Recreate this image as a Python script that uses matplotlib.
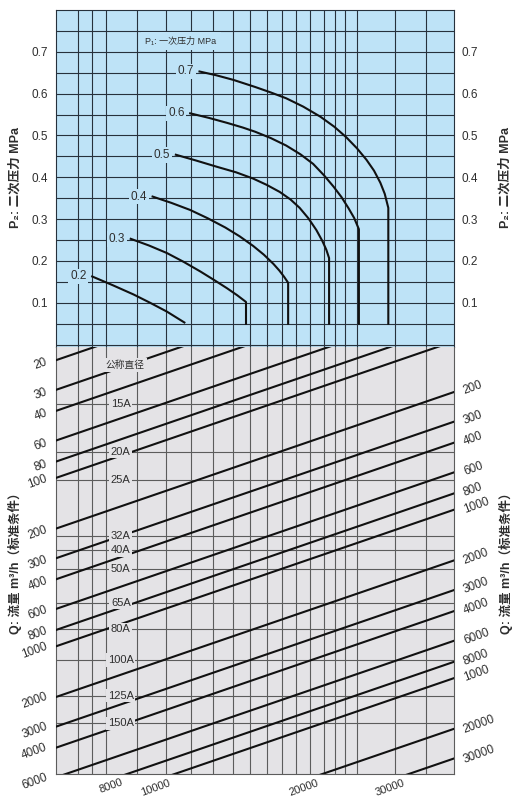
import numpy as np
import matplotlib.pyplot as plt

plt.rcParams['font.family'] = ['Liberation Sans', 'Noto Sans CJK SC', 'DejaVu Sans']

# P2 axis ticks (MPa)
p2_ticks = [0.1, 0.2, 0.3, 0.4, 0.5, 0.6, 0.7]

# vertical grid lines, position across the chart (0..100)
grid_x = [5.5, 9.1, 12.6, 20.4, 27.7, 34.0, 39.5, 44.6, 48.9, 53.1,
          56.9, 60.4, 64.0, 67.5, 70.3, 72.8, 75.6, 85.4, 93.2]

# P1 curves (primary pressure): x position and P2
p1_labels = ['0.2', '0.3', '0.4', '0.5', '0.6', '0.7']
p1_x = [
    [9.1, 14.3, 19.5, 23.7, 27.9, 32.3],
    [18.8, 23.4, 27.9, 32.1, 36.3, 39.7, 43.0, 45.6, 47.8, 47.8],
    [24.3, 29.0, 33.75, 38.2, 42.6, 46.2, 49.6, 52.3, 54.7, 56.2, 57.4,
     58.4, 58.4],
    [30.15, 35.3, 40.55, 45.3, 49.6, 53.0, 56.3, 59.0, 61.3, 63.5, 65.5,
     67.0, 68.0, 68.7, 68.7],
    [33.75, 38.5, 43.1, 47.0, 50.1, 54.0, 57.9, 61.5, 64.7, 67.4, 69.8,
     71.8, 73.6, 75.0, 76.2, 76.2],
    [36.1, 40.3, 44.6, 50.1, 54.0, 57.9, 62.2, 66.5, 70.0, 73.0, 75.7,
     78.1, 80.0, 81.6, 82.7, 83.6, 83.6],
]
p1_p2 = [
    [0.163, 0.142, 0.120, 0.100, 0.079, 0.053],
    [0.253, 0.237, 0.219, 0.198, 0.175, 0.155, 0.135, 0.118, 0.102, 0.05],
    [0.354, 0.339, 0.322, 0.302, 0.280, 0.259, 0.236, 0.215, 0.193, 0.177,
     0.162, 0.148, 0.05],
    [0.454, 0.440, 0.425, 0.412, 0.397, 0.382, 0.365, 0.347, 0.327, 0.302,
     0.274, 0.248, 0.227, 0.207, 0.05],
    [0.553, 0.542, 0.530, 0.519, 0.509, 0.494, 0.476, 0.455, 0.432, 0.405,
     0.378, 0.353, 0.326, 0.303, 0.276, 0.05],
    [0.653, 0.644, 0.633, 0.616, 0.603, 0.589, 0.569, 0.545, 0.521, 0.496,
     0.4695, 0.442, 0.416, 0.387, 0.3606, 0.327, 0.05],
]

# flow lines Q (m3/h), one slanted line each
q_lines = [20, 30, 40, 60, 80, 100, 200, 300, 400, 600, 800, 1000,
           2000, 3000, 4000, 6000, 8000, 10000, 20000, 30000]
q_left = [20, 30, 40, 60, 80, 100, 200, 300, 400, 600, 800, 1000,
          2000, 3000, 4000, 6000]
q_right = [200, 300, 400, 600, 800, 1000, 2000, 3000, 4000, 6000,
           8000, 10000, 20000, 30000]
q_right_text = ['200', '300', '400', '600', '800', '1000', '2000', '3000',
                '4000', '6000', '8000', '1000', '20000', '30000']
q_bottom = [8000, 10000, 20000, 30000]
q_shift = 0.81  # decades each flow line drops across the chart

# nominal diameters, row placed at this flow on the left scale
dia_labels = ['15A', '20A', '25A', '32A', '40A', '50A', '65A', '80A',
              '100A', '125A', '150A']
dia_q = [36.4, 69.9, 102.9, 220.4, 268.1, 347.5, 551, 792.6, 1206, 1965, 2865]

BLUE = '#bee3f7'
GRAY = '#e4e3e6'
DARK = '#26313c'
GLINE = '#5c5c5c'
TXT = '#2e2e2e'

fig = plt.figure(figsize=(5.13, 8.0), dpi=100)
L, W = 56 / 513, 397.5 / 513
ax1 = fig.add_axes([L, 1 - 347 / 800, W, 337 / 800])
ax2 = fig.add_axes([L, 1 - 774 / 800, W, 427 / 800])

# ---- upper panel: secondary pressure ----
ax1.set_facecolor(BLUE)
ax1.set_xlim(0, 100)
ax1.set_ylim(-0.0056, 0.8)
for y in np.arange(0, 0.79, 0.05):
    ax1.axhline(y, color=DARK, lw=0.8, zorder=1)
for x in grid_x:
    ax1.axvline(x, color=DARK, lw=0.8, zorder=1)
ax1.set_xticks([])
ax1.set_yticks(p2_ticks)
ax1.tick_params(axis='y', length=0, labelleft=True, labelright=True,
                pad=6, labelsize=8.5, labelcolor=TXT)
for s in ax1.spines.values():
    s.set_color(DARK)
    s.set_linewidth(0.8)

for lab, xs, ys in zip(p1_labels, p1_x, p1_p2):
    ax1.plot(xs, ys, color='#111111', lw=1.5, zorder=3, solid_joinstyle='round')
    ax1.annotate(lab, (xs[0], ys[0]), xytext=(-4, 0), textcoords='offset points',
                 ha='right', va='center', fontsize=8.5, color=TXT, zorder=4,
                 bbox=dict(boxstyle='square,pad=0.15', fc=BLUE, ec='none'))

ax1.text(31.4, 0.725, 'P₁: 一次压力 MPa', ha='center', va='center',
         fontsize=6.5, color=TXT, zorder=4,
         bbox=dict(boxstyle='square,pad=0.5', fc=BLUE, ec='none'))

# ---- lower panel: flow ----
ax2.set_facecolor(GRAY)
ax2.set_yscale('log')
ax2.set_xlim(0, 100)
ax2.set_ylim(5732, 16.70)
ax2.tick_params(which='both', left=False, bottom=False,
                labelleft=False, labelbottom=False)
for s in ax2.spines.values():
    s.set_color(GLINE)
    s.set_linewidth(0.8)
ax2.spines['top'].set_visible(False)

for x in grid_x:
    ax2.axvline(x, color=GLINE, lw=0.8, zorder=1)
for q in dia_q:
    ax2.axhline(q, color=GLINE, lw=0.8, zorder=1)

for q in q_lines:
    ax2.plot([0, 100], [q, q / 10 ** q_shift], color='#111111', lw=1.5, zorder=3)

for lab, q in zip(dia_labels, dia_q):
    ax2.text(16.3, q, lab, ha='center', va='center', fontsize=8, color=TXT,
             zorder=4, bbox=dict(boxstyle='square,pad=0.15', fc=GRAY, ec='none'))
ax2.text(17.4, 21.4, '公称直径', ha='center', va='center', fontsize=7,
         color=TXT, zorder=4,
         bbox=dict(boxstyle='square,pad=0.2', fc=GRAY, ec='none'))

for q in q_left:
    ax2.annotate(str(q), (0, q), xytext=(-5, -3), textcoords='offset points',
                 ha='right', va='center', rotation=20, fontsize=8.5, color=TXT,
                 annotation_clip=False)
for q, t in zip(q_right, q_right_text):
    ax2.annotate(t, (100, q / 10 ** q_shift), xytext=(6, 3),
                 textcoords='offset points', ha='left', va='center',
                 rotation=20, fontsize=8.5, color=TXT, annotation_clip=False)
qbot = ax2.get_ylim()[0]
for q in q_bottom:
    xe = 100 * np.log10(q / qbot) / q_shift
    ax2.annotate(str(q), (xe, 0), xycoords=('data', 'axes fraction'),
                 xytext=(-2, -2.5), textcoords='offset points', ha='right',
                 va='top', rotation=20, fontsize=8, color=TXT,
                 annotation_clip=False)

# axis titles
lab_kw = dict(rotation=90, ha='center', va='center', fontsize=9,
              fontweight='bold', color=TXT)
fig.text(15 / 513, 1 - 177 / 800, 'P₂: 二次压力 MPa', **lab_kw)
fig.text(505 / 513, 1 - 177 / 800, 'P₂: 二次压力 MPa', **lab_kw)
fig.text(15 / 513, 1 - 560 / 800, 'Q: 流量 m³/h（标准条件）', **lab_kw)
fig.text(506 / 513, 1 - 560 / 800, 'Q: 流量 m³/h（标准条件）', **lab_kw)

fig.savefig('out.png', dpi=100)
